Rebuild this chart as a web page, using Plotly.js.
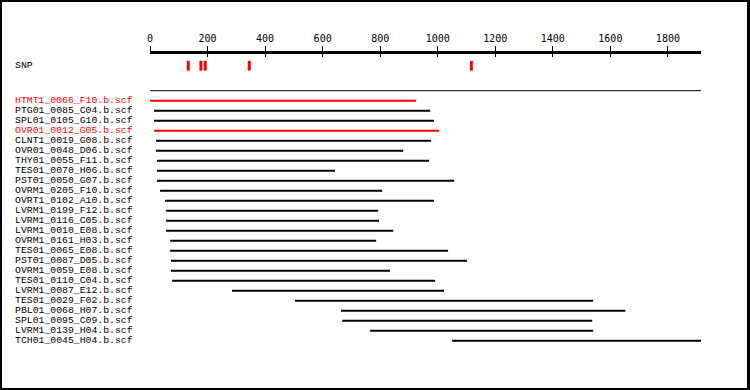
<!DOCTYPE html>
<html>
<head>
<meta charset="utf-8">
<script src="https://cdn.plot.ly/plotly-3.0.1.min.js"></script>
<style>
html,body{margin:0;padding:0;background:#fff;}
#wrap{position:relative;width:750px;height:390px;}
#chart{position:absolute;left:0;top:0;width:750px;height:390px;}
#frame{position:absolute;left:0;top:0;width:750px;height:390px;box-sizing:border-box;border-style:solid;border-color:#000;border-width:2px 3px 2px 2px;pointer-events:none;}
</style>
</head>
<body>
<div id="wrap"><div id="chart"></div><div id="frame"></div></div>
<script>
// ---- data ----
const readNames = [
  "HTMT1_0066_F10.b.scf","PTG01_0085_C04.b.scf","SPL01_0105_G10.b.scf","OVR01_0012_G05.b.scf",
  "CLNT1_0019_G08.b.scf","OVR01_0048_D06.b.scf","THY01_0055_F11.b.scf","TES01_0070_H06.b.scf",
  "PST01_0050_G07.b.scf","OVRM1_0205_F10.b.scf","OVRT1_0102_A10.b.scf","LVRM1_0199_F12.b.scf",
  "LVRM1_0116_C05.b.scf","LVRM1_0010_E08.b.scf","OVRM1_0161_H03.b.scf","TES01_0065_E08.b.scf",
  "PST01_0087_D05.b.scf","OVRM1_0059_E08.b.scf","TES01_0110_C04.b.scf","LVRM1_0087_E12.b.scf",
  "TES01_0029_F02.b.scf","PBL01_0068_H07.b.scf","SPL01_0095_C09.b.scf","LVRM1_0139_H04.b.scf",
  "TCH01_0045_H04.b.scf"
];
const readStart = [0,14,14,14,21,21,24,24,24,35,52,56,56,56,70,70,73,73,77,285,504,664,668,765,1050];
const readEnd   = [925,974,987,1005,977,880,970,643,1057,807,987,793,796,845,786,1036,1102,834,991,1022,1540,1652,1537,1540,1923];
const highlighted = ["HTMT1_0066_F10.b.scf","OVR01_0012_G05.b.scf"];
const snpPositions = [133,177,192,345,1117];
const referenceLength = [0,1915];
const tickValues = [0,200,400,600,800,1000,1200,1400,1600,1800];

// ---- build ----
const RED = "#ff0000", BLACK = "#000000";
const FONT = "DejaVu Sans Mono, monospace";
const LABEL_FONT = "Liberation Mono, DejaVu Sans Mono, monospace";
const blackX = [], blackY = [], redX = [], redY = [];
readNames.forEach((n, i) => {
  const isRed = highlighted.includes(n);
  const X = isRed ? redX : blackX, Y = isRed ? redY : blackY;
  X.push(readStart[i], readEnd[i], null);
  Y.push(i, i, null);
});

const traces = [
  {x: referenceLength, y: [-1, -1], mode: "lines", line: {color: BLACK, width: 1}, hoverinfo: "skip", showlegend: false},
  {x: blackX, y: blackY, mode: "lines", line: {color: BLACK, width: 2}, hoverinfo: "skip", showlegend: false, connectgaps: false},
  {x: redX, y: redY, mode: "lines", line: {color: RED, width: 2}, hoverinfo: "skip", showlegend: false, connectgaps: false},
  {x: snpPositions, y: snpPositions.map(() => -3.5), mode: "markers",
   marker: {symbol: "line-ns", size: 7, line: {color: RED, width: 3}}, hoverinfo: "skip", showlegend: false, cliponaxis: false},
  {x: [null], y: [null], xaxis: "x2", mode: "markers", showlegend: false, hoverinfo: "skip"}
];

const labelX = (14 - 150) / 551;
const annotations = readNames.map((n, i) => ({
  xref: "paper", yref: "y", x: labelX, y: i - 0.05, xanchor: "left", yanchor: "middle",
  text: n, showarrow: false, borderpad: 0,
  font: {family: LABEL_FONT, size: 9.8, color: highlighted.includes(n) ? RED : BLACK}
}));
annotations.push({
  xref: "paper", yref: "y", x: labelX, y: -3.5, xanchor: "left", yanchor: "middle",
  text: "SNP", showarrow: false, borderpad: 0, font: {family: LABEL_FONT, size: 9.8, color: BLACK}
});

const axisPos = 1 - 51.5 / 390;
const layout = {
  width: 750, height: 390,
  margin: {l: 150, r: 49, t: 0, b: 0, pad: 0},
  paper_bgcolor: "#fff", plot_bgcolor: "#fff",
  showlegend: false,
  font: {family: FONT, size: 10, color: BLACK},
  xaxis: {
    range: referenceLength, side: "top", anchor: "free", position: axisPos,
    showgrid: false, zeroline: false, showline: true, linecolor: BLACK, linewidth: 3,
    ticks: "outside", ticklen: 5, tickwidth: 1, tickcolor: BLACK,
    tickvals: tickValues, ticktext: tickValues.map(String),
    tickfont: {family: FONT, size: 10, color: BLACK}
  },
  xaxis2: {
    range: referenceLength, overlaying: "x", side: "top", anchor: "free", position: axisPos,
    showgrid: false, zeroline: false, showline: false,
    ticks: "inside", ticklen: 4, tickwidth: 1, tickcolor: BLACK,
    tickvals: tickValues, showticklabels: false
  },
  yaxis: {
    range: [28.93, -10.07], showgrid: false, zeroline: false, showline: false,
    showticklabels: false, ticks: ""
  },
  annotations: annotations
};

Plotly.newPlot("chart", traces, layout, {staticPlot: true, displayModeBar: false});
</script>
</body>
</html>
